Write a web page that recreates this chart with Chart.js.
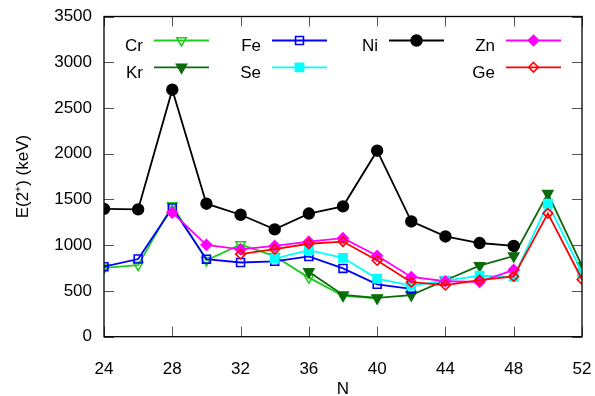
<!DOCTYPE html>
<html><head><meta charset="utf-8">
<script src="https://cdn.jsdelivr.net/npm/chart.js@4"></script>
<style>html,body{margin:0;padding:0;background:#fff}#wrap{width:595px;height:396px}</style>
</head><body><div id="wrap"><canvas id="c" width="595" height="396"></canvas></div>
<script>
// ---- data ----
const N  = [24, 26, 28, 30, 32, 34, 36, 38, 40, 42, 44, 46, 48, 50, 52];
const Cr = [752, 783, 1434, 835, 1007, 880, 646, 446, 420, null, null, null, null, null, null];
const Kr = [null, null, null, null, null, null, 710, 456, 424, 455, 617, 777, 882, 1565, 775];
const Fe = [765, 849, 1408, 847, 811, 824, 877, 746, 573, 522, null, null, null, null, null];
const Se = [null, null, null, null, null, 854, 945, 862, 635, 559, 614, 666, 655, 1455, 704];
const Ni = [1397, 1392, 2700, 1454, 1333, 1173, 1346, 1425, 2033, 1260, 1096, 1024, 992, null, null];
const Zn = [null, null, 1356, 1004, 954, 992, 1039, 1077, 885, 653, 606, 599, 730, null, null];
const Ge = [null, null, null, null, 902, 957, 1016, 1040, 834, 596, 563, 619, 659, 1348, 625];
const xTicks = [24, 28, 32, 36, 40, 44, 48, 52];
const yTicks = [0, 500, 1000, 1500, 2000, 2500, 3000, 3500];
const xTitle = 'N';
const yTitle = 'E(2\u207A) (keV)';

const FONT = "'Liberation Sans', Arial, Helvetica, sans-serif";

function pts(arr){ return N.map((n,i)=>({x:n, y:arr[i]})); }

// style per series
const styles = {
  Cr: {color:'#22cc22', style:'triangle', rot:180, fill:false, r:5.5},
  Kr: {color:'#0b6b0b', style:'triangle', rot:180, fill:true,  r:5.8},
  Fe: {color:'#0000ff', style:'rect',     rot:0,   fill:false, r:5.6},
  Se: {color:'#00ffff', style:'rect',     rot:0,   fill:true,  r:5.8},
  Ni: {color:'#000000', style:'circle',   rot:0,   fill:true,  r:5.4},
  Zn: {color:'#ff00ff', style:'rectRot',  rot:0,   fill:true,  r:5.2},
  Ge: {color:'#ff0000', style:'rectRot',  rot:0,   fill:false, r:4.8}
};
const seriesList = [['Cr',Cr],['Kr',Kr],['Fe',Fe],['Se',Se],['Ni',Ni],['Zn',Zn],['Ge',Ge]];

const datasets = seriesList.map(([name,arr],i)=>{
  const s = styles[name];
  return {
    label: name,
    data: pts(arr),
    borderColor: s.color,
    backgroundColor: s.color,
    borderWidth: 1.8,
    pointStyle: s.style,
    pointRotation: s.rot,
    pointRadius: s.r,
    pointBorderWidth: 1.6,
    pointBorderColor: s.color,
    pointBackgroundColor: s.fill ? s.color : 'rgba(0,0,0,0)',
    tension: 0,
    order: seriesList.length - i
  };
});

// legend layout (column text right edge, row line y, row text baseline)
const legendCols = {Cr:[0,0], Kr:[0,1], Fe:[1,0], Se:[1,1], Ni:[2,0], Zn:[3,0], Ge:[3,1]};
const colRight = [143, 261, 378, 495];
const rowLineY = [40.5, 67.3];
const rowTextY = [51, 77.5];

function marker(ctx, s, x, y){
  ctx.save();
  ctx.strokeStyle = s.color; ctx.fillStyle = s.color; ctx.lineWidth = 1.6;
  ctx.beginPath();
  const r = s.r;
  if (s.style === 'circle') { ctx.arc(x, y, r, 0, Math.PI*2); }
  else if (s.style === 'rect') { const h = r*Math.SQRT1_2; ctx.rect(x-h, y-h, 2*h, 2*h); }
  else if (s.style === 'rectRot') { ctx.moveTo(x, y-r); ctx.lineTo(x+r, y); ctx.lineTo(x, y+r); ctx.lineTo(x-r, y); ctx.closePath(); }
  else if (s.style === 'triangle') {
    const a = Math.PI; // pointing down
    for (let k=0;k<3;k++){
      const ang = a + k*2*Math.PI/3;
      const px = x + Math.sin(ang)*r, py = y - Math.cos(ang)*r;
      if (k===0) ctx.moveTo(px,py); else ctx.lineTo(px,py);
    }
    ctx.closePath();
  }
  if (s.fill) ctx.fill();
  ctx.stroke();
  ctx.restore();
}

const framePlugin = {
  id: 'frame',
  afterDatasetsDraw(chart){
    const {ctx, chartArea:a, scales:{x, y}} = chart;
    ctx.save();
    ctx.strokeStyle = '#555'; ctx.lineWidth = 1;
    const tl = 10;
    xTicks.forEach(v=>{
      const px = Math.round(x.getPixelForValue(v)) + 0.5;
      ctx.beginPath(); ctx.moveTo(px, a.bottom); ctx.lineTo(px, a.bottom - tl); ctx.stroke();
      ctx.beginPath(); ctx.moveTo(px, a.top); ctx.lineTo(px, a.top + tl); ctx.stroke();
    });
    yTicks.forEach(v=>{
      const py = Math.round(y.getPixelForValue(v)) + 0.5;
      ctx.beginPath(); ctx.moveTo(a.left, py); ctx.lineTo(a.left + tl, py); ctx.stroke();
      ctx.beginPath(); ctx.moveTo(a.right, py); ctx.lineTo(a.right - tl, py); ctx.stroke();
    });
    ctx.strokeStyle = '#000'; ctx.lineWidth = 1.3;
    ctx.strokeRect(a.left, a.top, a.right - a.left, a.bottom - a.top);
    // legend
    ctx.font = '17px ' + FONT;
    ctx.fillStyle = '#000';
    ctx.textAlign = 'right'; ctx.textBaseline = 'alphabetic';
    chart.data.datasets.forEach(ds=>{
      const [c, r] = legendCols[ds.label];
      const s = styles[ds.label];
      const xr = colRight[c];
      ctx.fillText(ds.label, xr, rowTextY[r]);
      ctx.strokeStyle = s.color; ctx.lineWidth = 1.8;
      ctx.beginPath(); ctx.moveTo(xr + 11, rowLineY[r]); ctx.lineTo(xr + 66, rowLineY[r]); ctx.stroke();
      marker(ctx, s, xr + 38.5, rowLineY[r]);
    });
    ctx.restore();
  }
};

function zeroPad(s){ s.paddingTop = 0; s.paddingBottom = 0; s.paddingLeft = 0; s.paddingRight = 0; }

new Chart(document.getElementById('c'), {
  type: 'line',
  data: { datasets },
  options: {
    responsive: false,
    animation: false,
    devicePixelRatio: 1,
    layout: { padding: { left: 0, right: 13, top: 16.5, bottom: 0 } },
    plugins: { legend: { display: false }, tooltip: { enabled: false } },
    scales: {
      x: {
        type: 'linear', min: 24, max: 52,
        afterFit(s){ s.height = 59.3; zeroPad(s); },
        afterBuildTicks(s){ s.ticks = xTicks.map(v=>({value:v})); },
        grid: { display: false, drawTicks: false },
        border: { display: false },
        ticks: { color: '#000', font: { family: FONT, size: 17 }, padding: 22, maxRotation: 0, autoSkip: false },
        title: { display: true, text: xTitle, color: '#000', font: { family: FONT, size: 17, lineHeight: 0.8 }, padding: { top: 0, bottom: 0 } }
      },
      y: {
        type: 'linear', min: 0, max: 3500,
        afterFit(s){ s.width = 104; zeroPad(s); },
        afterBuildTicks(s){ s.ticks = yTicks.map(v=>({value:v})); },
        grid: { display: false, drawTicks: false },
        border: { display: false },
        ticks: { color: '#000', font: { family: FONT, size: 17 }, padding: 12, autoSkip: false, callback: v => String(v) },
        title: { display: true, text: yTitle, color: '#000', font: { family: FONT, size: 17, lineHeight: 1.2 }, padding: { top: 13, bottom: 0 } }
      }
    }
  },
  plugins: [framePlugin]
});
</script>
</body></html>
